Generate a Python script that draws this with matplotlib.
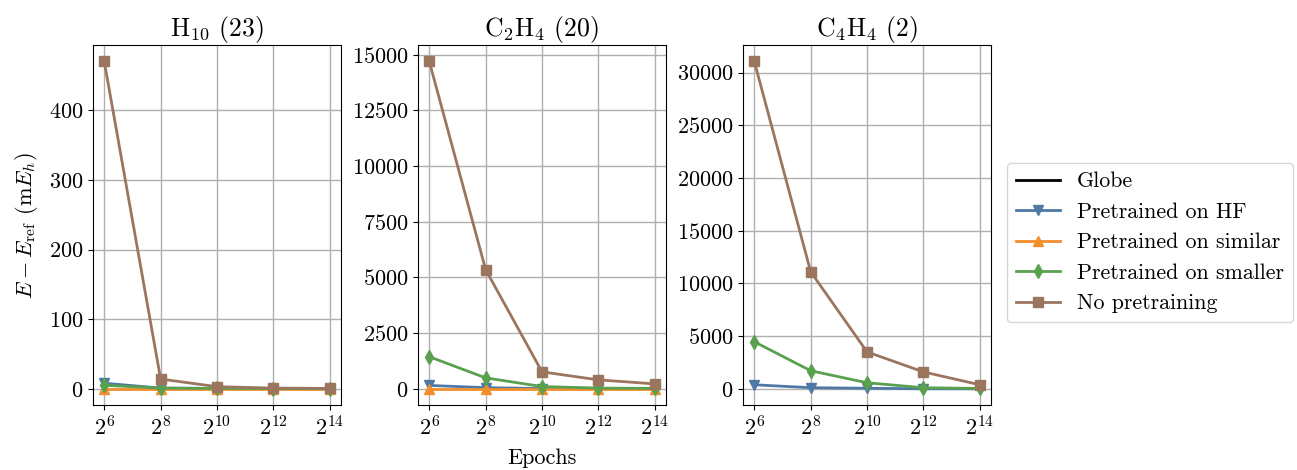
import matplotlib
matplotlib.use('Agg')
from matplotlib import pyplot as plt

plt.rcParams['font.family'] = 'serif'
plt.rcParams['font.serif'] = ['cmr10']
plt.rcParams['mathtext.fontset'] = 'cm'
plt.rcParams['axes.formatter.use_mathtext'] = True
plt.rcParams['axes.unicode_minus'] = False
plt.rcParams['font.size'] = 16

epochs = [2**6, 2**8, 2**10, 2**12, 2**14]

# H10
h10_hf = [8, 1, 0.5, 0.3, 0.2]
h10_similar = [0, 0, 0, 0, 0]
h10_smaller = [5, 1, 0.5, 0.3, 0.2]
h10_none = [470, 14, 3, 1, 0.5]

# C2H4
c2h4_hf = [150, 50, 10, 5, 5]
c2h4_similar = [0, 0, 0, 0, 0]
c2h4_smaller = [1440, 490, 100, 30, 20]
c2h4_none = [14700, 5350, 760, 400, 220]

# C4H4 (no "similar" run)
c4h4_hf = [380, 100, 50, 0, 0]
c4h4_smaller = [4460, 1710, 570, 100, 30]
c4h4_none = [31050, 11100, 3500, 1600, 380]

titles = [r'$\mathrm{H}_{10}$ (23)', r'$\mathrm{C}_2\mathrm{H}_4$ (20)', r'$\mathrm{C}_4\mathrm{H}_4$ (2)']
panels = [
    {'hf': h10_hf, 'similar': h10_similar, 'smaller': h10_smaller, 'none': h10_none},
    {'hf': c2h4_hf, 'similar': c2h4_similar, 'smaller': c2h4_smaller, 'none': c2h4_none},
    {'hf': c4h4_hf, 'smaller': c4h4_smaller, 'none': c4h4_none},
]

styles = {
    'hf': ('Pretrained on HF', '#4e79a7', 'v'),
    'similar': ('Pretrained on similar', '#f28e2b', '^'),
    'smaller': ('Pretrained on smaller', '#59a14f', 'd'),
    'none': ('No pretraining', '#9c755f', 's'),
}

fig = plt.figure(figsize=(12.97, 4.70), dpi=100)
lefts = [0.0717, 0.3223, 0.5729]
width = 0.1912
axes = [fig.add_axes([l, 0.138, width, 0.766]) for l in lefts]

for ax, title, data in zip(axes, titles, panels):
    for key in ['hf', 'similar', 'smaller', 'none']:
        if key not in data:
            continue
        label, color, marker = styles[key]
        ax.plot(epochs, data[key], color=color, marker=marker, markersize=7, linewidth=2, label=label)
    ax.set_xscale('log', base=2)
    ax.set_xticks(epochs)
    ax.minorticks_off()
    ax.grid(True, color='#b0b0b0', linewidth=1)
    ax.set_axisbelow(True)
    ax.set_title(title, fontsize=18.5)

axes[0].set_ylabel(r'$E - E_\mathrm{ref}$ (m$E_h$)', fontsize=16, labelpad=6)
axes[1].set_xlabel('Epochs', fontsize=16, labelpad=7)
axes[0].set_yticks([0, 100, 200, 300, 400])
axes[1].set_yticks([0, 2500, 5000, 7500, 10000, 12500, 15000])
axes[2].set_yticks([0, 5000, 10000, 15000, 20000, 25000, 30000])

handles = [plt.Line2D([], [], color='black', linewidth=2, label='Globe')]
for key in ['hf', 'similar', 'smaller', 'none']:
    label, color, marker = styles[key]
    handles.append(plt.Line2D([], [], color=color, marker=marker, markersize=7, linewidth=2, label=label))
fig.legend(handles=handles, loc='center left', bbox_to_anchor=(0.7764, 0.484),
           borderaxespad=0, fontsize=15.8)

fig.savefig('out.png', dpi=100)
